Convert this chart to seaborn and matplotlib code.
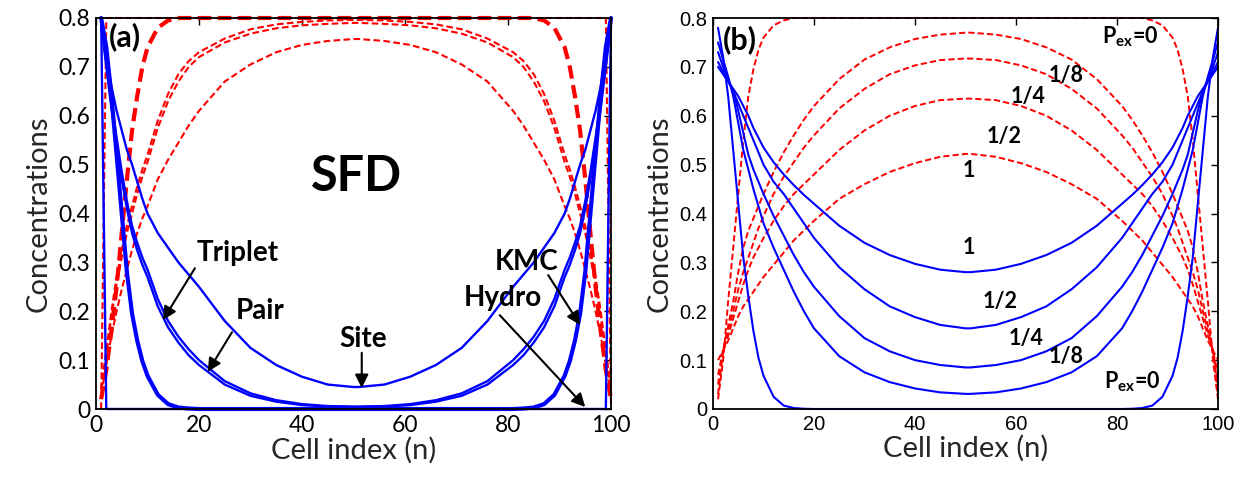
import matplotlib
matplotlib.use("Agg")
import matplotlib.pyplot as plt
import seaborn as sns
import pandas as pd

# Cell positions shared by every profile
n_cells = [1, 2, 3, 4, 5, 6, 7, 8, 9, 10, 12, 14, 16, 18, 20, 25, 30, 35, 40, 45, 50,
           51, 56, 61, 66, 71, 76, 81, 83, 85, 87, 89, 91, 92, 93, 94, 95, 96, 97, 98, 99, 100]

# ---- Panel (a): SFD, different approximations ----
site_a = [0.78, 0.72, 0.66, 0.61, 0.57, 0.53, 0.50, 0.465, 0.43, 0.40, 0.36, 0.33, 0.30, 0.275, 0.25, 0.18, 0.125, 0.09, 0.066, 0.05, 0.045,
          0.045, 0.05, 0.066, 0.09, 0.125, 0.18, 0.25, 0.275, 0.30, 0.33, 0.36, 0.40, 0.43, 0.465, 0.50, 0.53, 0.57, 0.61, 0.66, 0.72, 0.78]
pair_a = [0.79, 0.71, 0.63, 0.555, 0.485, 0.425, 0.375, 0.34, 0.31, 0.285, 0.225, 0.18, 0.148, 0.122, 0.10, 0.057, 0.032, 0.018, 0.01, 0.006, 0.005,
          0.005, 0.006, 0.01, 0.018, 0.032, 0.057, 0.10, 0.122, 0.148, 0.18, 0.225, 0.285, 0.31, 0.34, 0.375, 0.425, 0.485, 0.555, 0.63, 0.71, 0.79]
triplet_a = [0.79, 0.70, 0.615, 0.54, 0.47, 0.41, 0.36, 0.325, 0.295, 0.27, 0.21, 0.167, 0.136, 0.11, 0.09, 0.05, 0.027, 0.015, 0.008, 0.005, 0.004,
             0.004, 0.005, 0.008, 0.015, 0.027, 0.05, 0.09, 0.11, 0.136, 0.167, 0.21, 0.27, 0.295, 0.325, 0.36, 0.41, 0.47, 0.54, 0.615, 0.70, 0.79]
kmc_a = [0.80, 0.74, 0.64, 0.52, 0.40, 0.28, 0.195, 0.14, 0.098, 0.068, 0.029, 0.01, 0.003, 0.001, 0.0, 0.0, 0.0, 0.0, 0.0, 0.0, 0.0,
         0.0, 0.0, 0.0, 0.0, 0.0, 0.0, 0.0, 0.001, 0.003, 0.01, 0.029, 0.068, 0.098, 0.14, 0.195, 0.28, 0.40, 0.52, 0.64, 0.74, 0.80]
hydro_a = [0.80, 0.0, 0.0, 0.0, 0.0, 0.0, 0.0, 0.0, 0.0, 0.0, 0.0, 0.0, 0.0, 0.0, 0.0, 0.0, 0.0, 0.0, 0.0, 0.0, 0.0,
           0.0, 0.0, 0.0, 0.0, 0.0, 0.0, 0.0, 0.0, 0.0, 0.0, 0.0, 0.0, 0.0, 0.0, 0.0, 0.0, 0.0, 0.0, 0.0, 0.0, 0.80]

site_a_r = [0.03, 0.09, 0.15, 0.20, 0.245, 0.285, 0.325, 0.36, 0.39, 0.415, 0.47, 0.51, 0.545, 0.58, 0.61, 0.67, 0.705, 0.73, 0.745, 0.753, 0.757,
            0.757, 0.753, 0.745, 0.73, 0.705, 0.67, 0.61, 0.58, 0.545, 0.51, 0.47, 0.415, 0.39, 0.36, 0.325, 0.285, 0.245, 0.20, 0.15, 0.09, 0.03]
pair_a_r = [0.04, 0.11, 0.19, 0.255, 0.31, 0.36, 0.40, 0.44, 0.475, 0.505, 0.575, 0.63, 0.67, 0.70, 0.72, 0.75, 0.768, 0.779, 0.785, 0.788, 0.79,
            0.79, 0.788, 0.785, 0.779, 0.768, 0.75, 0.72, 0.70, 0.67, 0.63, 0.575, 0.505, 0.475, 0.44, 0.40, 0.36, 0.31, 0.255, 0.19, 0.11, 0.04]
triplet_a_r = [0.04, 0.12, 0.20, 0.27, 0.325, 0.375, 0.415, 0.455, 0.49, 0.52, 0.59, 0.645, 0.685, 0.712, 0.73, 0.758, 0.777, 0.787, 0.792, 0.795, 0.796,
               0.796, 0.795, 0.792, 0.787, 0.777, 0.758, 0.73, 0.712, 0.685, 0.645, 0.59, 0.52, 0.49, 0.455, 0.415, 0.375, 0.325, 0.27, 0.20, 0.12, 0.04]
kmc_a_r = [0.02, 0.08, 0.16, 0.25, 0.36, 0.47, 0.57, 0.64, 0.70, 0.74, 0.78, 0.795, 0.80, 0.80, 0.80, 0.80, 0.80, 0.80, 0.80, 0.80, 0.80,
           0.80, 0.80, 0.80, 0.80, 0.80, 0.80, 0.80, 0.80, 0.80, 0.795, 0.78, 0.74, 0.70, 0.64, 0.57, 0.47, 0.36, 0.25, 0.16, 0.08, 0.02]
hydro_a_r = [0.0, 0.80, 0.80, 0.80, 0.80, 0.80, 0.80, 0.80, 0.80, 0.80, 0.80, 0.80, 0.80, 0.80, 0.80, 0.80, 0.80, 0.80, 0.80, 0.80, 0.80,
             0.80, 0.80, 0.80, 0.80, 0.80, 0.80, 0.80, 0.80, 0.80, 0.80, 0.80, 0.80, 0.80, 0.80, 0.80, 0.80, 0.80, 0.80, 0.80, 0.80, 0.0]

# ---- Panel (b): exchange probability P_ex ----
pex0_b = [0.78, 0.72, 0.64, 0.53, 0.42, 0.31, 0.23, 0.16, 0.105, 0.068, 0.025, 0.007, 0.002, 0.0005, 0.0, 0.0, 0.0, 0.0, 0.0, 0.0, 0.0,
          0.0, 0.0, 0.0, 0.0, 0.0, 0.0, 0.0, 0.0005, 0.002, 0.007, 0.025, 0.068, 0.105, 0.16, 0.23, 0.31, 0.42, 0.53, 0.64, 0.72, 0.78]
pex8_b = [0.75, 0.715, 0.68, 0.64, 0.585, 0.53, 0.49, 0.45, 0.415, 0.38, 0.33, 0.285, 0.24, 0.20, 0.165, 0.108, 0.075, 0.055, 0.042, 0.034, 0.031,
          0.031, 0.034, 0.042, 0.055, 0.075, 0.108, 0.165, 0.20, 0.24, 0.285, 0.33, 0.38, 0.415, 0.45, 0.49, 0.53, 0.585, 0.64, 0.68, 0.715, 0.75]
pex4_b = [0.73, 0.70, 0.675, 0.65, 0.61, 0.565, 0.52, 0.49, 0.465, 0.44, 0.395, 0.355, 0.315, 0.28, 0.25, 0.19, 0.145, 0.118, 0.10, 0.09, 0.085,
          0.085, 0.09, 0.10, 0.118, 0.145, 0.19, 0.25, 0.28, 0.315, 0.355, 0.395, 0.44, 0.465, 0.49, 0.52, 0.565, 0.61, 0.65, 0.675, 0.70, 0.73]
pex2_b = [0.71, 0.69, 0.67, 0.65, 0.625, 0.60, 0.575, 0.55, 0.525, 0.50, 0.465, 0.44, 0.41, 0.38, 0.35, 0.29, 0.245, 0.21, 0.188, 0.172, 0.165,
          0.165, 0.172, 0.188, 0.21, 0.245, 0.29, 0.35, 0.38, 0.41, 0.44, 0.465, 0.50, 0.525, 0.55, 0.575, 0.60, 0.625, 0.65, 0.67, 0.69, 0.71]
pex1_b = [0.70, 0.685, 0.67, 0.655, 0.64, 0.62, 0.60, 0.575, 0.555, 0.535, 0.505, 0.48, 0.458, 0.438, 0.42, 0.375, 0.34, 0.315, 0.297, 0.285, 0.28,
          0.28, 0.285, 0.297, 0.315, 0.34, 0.375, 0.42, 0.438, 0.458, 0.48, 0.505, 0.535, 0.555, 0.575, 0.60, 0.62, 0.64, 0.655, 0.67, 0.685, 0.70]

pex0_b_r = [0.02, 0.10, 0.22, 0.33, 0.44, 0.55, 0.64, 0.695, 0.735, 0.76, 0.785, 0.795, 0.80, 0.80, 0.80, 0.80, 0.80, 0.80, 0.80, 0.80, 0.80,
            0.80, 0.80, 0.80, 0.80, 0.80, 0.80, 0.80, 0.80, 0.80, 0.795, 0.785, 0.76, 0.735, 0.695, 0.64, 0.55, 0.44, 0.33, 0.22, 0.10, 0.02]
pex8_b_r = [0.03, 0.12, 0.17, 0.22, 0.28, 0.33, 0.365, 0.39, 0.415, 0.44, 0.485, 0.525, 0.56, 0.592, 0.62, 0.675, 0.715, 0.74, 0.757, 0.766, 0.77,
            0.77, 0.766, 0.757, 0.74, 0.715, 0.675, 0.62, 0.592, 0.56, 0.525, 0.485, 0.44, 0.415, 0.39, 0.365, 0.33, 0.28, 0.22, 0.17, 0.12, 0.03]
pex4_b_r = [0.05, 0.12, 0.16, 0.20, 0.245, 0.28, 0.31, 0.34, 0.37, 0.395, 0.44, 0.475, 0.505, 0.535, 0.56, 0.615, 0.655, 0.685, 0.703, 0.714, 0.717,
            0.717, 0.714, 0.703, 0.685, 0.655, 0.615, 0.56, 0.535, 0.505, 0.475, 0.44, 0.395, 0.37, 0.34, 0.31, 0.28, 0.245, 0.20, 0.16, 0.12, 0.05]
pex2_b_r = [0.07, 0.12, 0.15, 0.185, 0.22, 0.255, 0.285, 0.31, 0.33, 0.35, 0.385, 0.415, 0.44, 0.46, 0.48, 0.53, 0.57, 0.60, 0.62, 0.632, 0.635,
            0.635, 0.632, 0.62, 0.60, 0.57, 0.53, 0.48, 0.46, 0.44, 0.415, 0.385, 0.35, 0.33, 0.31, 0.285, 0.255, 0.22, 0.185, 0.15, 0.12, 0.07]
pex1_b_r = [0.10, 0.12, 0.14, 0.165, 0.19, 0.21, 0.225, 0.24, 0.255, 0.27, 0.295, 0.32, 0.345, 0.365, 0.385, 0.43, 0.46, 0.485, 0.503, 0.516, 0.522,
            0.522, 0.516, 0.503, 0.485, 0.46, 0.43, 0.385, 0.365, 0.345, 0.32, 0.295, 0.27, 0.255, 0.24, 0.225, 0.21, 0.19, 0.165, 0.14, 0.12, 0.10]

x_ticks = [0, 20, 40, 60, 80, 100]
y_ticks = [0, 0.1, 0.2, 0.3, 0.4, 0.5, 0.6, 0.7, 0.8]
y_tick_labels = ["0", "0.1", "0.2", "0.3", "0.4", "0.5", "0.6", "0.7", "0.8"]

sns.set_style("white")
plt.rcParams["font.family"] = ["Lato", "DejaVu Sans"]
plt.rcParams["mathtext.fontset"] = "custom"
plt.rcParams["mathtext.bf"] = "Lato:bold"
plt.rcParams["mathtext.rm"] = "Lato"

BLUE = "#0000ff"
RED = "#ff0000"

fig = plt.figure(figsize=(12.55, 4.87), dpi=100)
W, H = 1255, 487
ax_a = fig.add_axes([96 / W, 78 / H, 515 / W, 391 / H])
ax_b = fig.add_axes([713 / W, 78 / H, 505 / W, 391 / H])


def draw(ax, values, color, lw, ls):
    df = pd.DataFrame({"n": n_cells, "c": values})
    sns.lineplot(data=df, x="n", y="c", ax=ax, color=color, lw=lw,
                 linestyle=ls, sort=False, estimator=None, clip_on=False)


# panel (a)
for vals in (site_a_r, pair_a_r, triplet_a_r):
    draw(ax_a, vals, RED, 1.5, (0, (3.2, 1.6)))
draw(ax_a, hydro_a_r, RED, 1.5, (0, (3.2, 1.6)))
draw(ax_a, kmc_a_r, RED, 3.0, (0, (3.2, 1.6)))
for vals in (site_a, pair_a, triplet_a, hydro_a):
    draw(ax_a, vals, BLUE, 1.7, "-")
draw(ax_a, kmc_a, BLUE, 3.0, "-")

# panel (b)
for vals in (pex0_b_r, pex8_b_r, pex4_b_r, pex2_b_r, pex1_b_r):
    draw(ax_b, vals, RED, 1.4, (0, (3.2, 1.6)))
for vals in (pex0_b, pex8_b, pex4_b, pex2_b, pex1_b):
    draw(ax_b, vals, BLUE, 1.5, "-")

for ax, tick_font, tick_size in ((ax_a, "Lato", 16.5), (ax_b, "Liberation Sans", 14.5)):
    ax.set_xlim(0, 100)
    ax.set_ylim(0, 0.8)
    ax.set_xticks(x_ticks)
    ax.set_yticks(y_ticks)
    ax.set_yticklabels(y_tick_labels)
    ax.tick_params(direction="in", top=True, right=True, length=5, width=1.0,
                   colors="black", pad=4)
    for lab in ax.get_xticklabels() + ax.get_yticklabels():
        lab.set_fontfamily(tick_font)
        lab.set_fontsize(tick_size)
    for sp in ax.spines.values():
        sp.set_color("black")
        sp.set_linewidth(1.3)
    ax.set_xlabel("Cell index (n)", fontsize=21, labelpad=1)
    ax.set_ylabel("Concentrations", fontsize=21, labelpad=5)
    ax.set_facecolor("white")

# annotations, panel (a)
bold = dict(fontweight="bold", color="black", ha="center", va="center")
ax_a.text(5.6, 0.761, "(a)", fontsize=22, **bold)
ax_a.text(50.6, 0.475, "SFD", fontsize=35, **bold)
ax_a.text(27.6, 0.319, "Triplet", fontsize=20, **bold)
ax_a.text(31.8, 0.200, "Pair", fontsize=20, **bold)
ax_a.text(51.8, 0.143, "Site", fontsize=20, **bold)
ax_a.text(83.7, 0.300, "KMC", fontsize=20, **bold)
ax_a.text(79.0, 0.227, "Hydro", fontsize=20, **bold)

arrow = dict(arrowstyle="-|>", color="black", lw=1.5, mutation_scale=20,
             shrinkA=0, shrinkB=0)
for tail, tip in (((19.2, 0.288), (13.0, 0.182)),
                  ((26.4, 0.157), (21.7, 0.076)),
                  ((51.6, 0.115), (51.6, 0.043)),
                  ((87.8, 0.274), (94.0, 0.172)),
                  ((78.4, 0.192), (95.0, 0.004))):
    ax_a.annotate("", xy=tip, xytext=tail, arrowprops=arrow)

# annotations, panel (b)
ax_b.text(5.4, 0.755, "(b)", fontsize=22, **bold)
for x, y, s in ((82.6, 0.761, r"$\mathbf{P_{ex}}$=0"), (70.0, 0.683, "1/8"),
                (62.3, 0.640, "1/4"), (57.7, 0.557, "1/2"), (50.6, 0.489, "1"),
                (50.7, 0.330, "1"), (56.8, 0.219, "1/2"), (62.0, 0.145, "1/4"),
                (70.0, 0.107, "1/8"), (83.0, 0.056, r"$\mathbf{P_{ex}}$=0")):
    ax_b.text(x, y, s, fontsize=15.5, **bold)

fig.savefig("out.png", dpi=100, facecolor="white")
